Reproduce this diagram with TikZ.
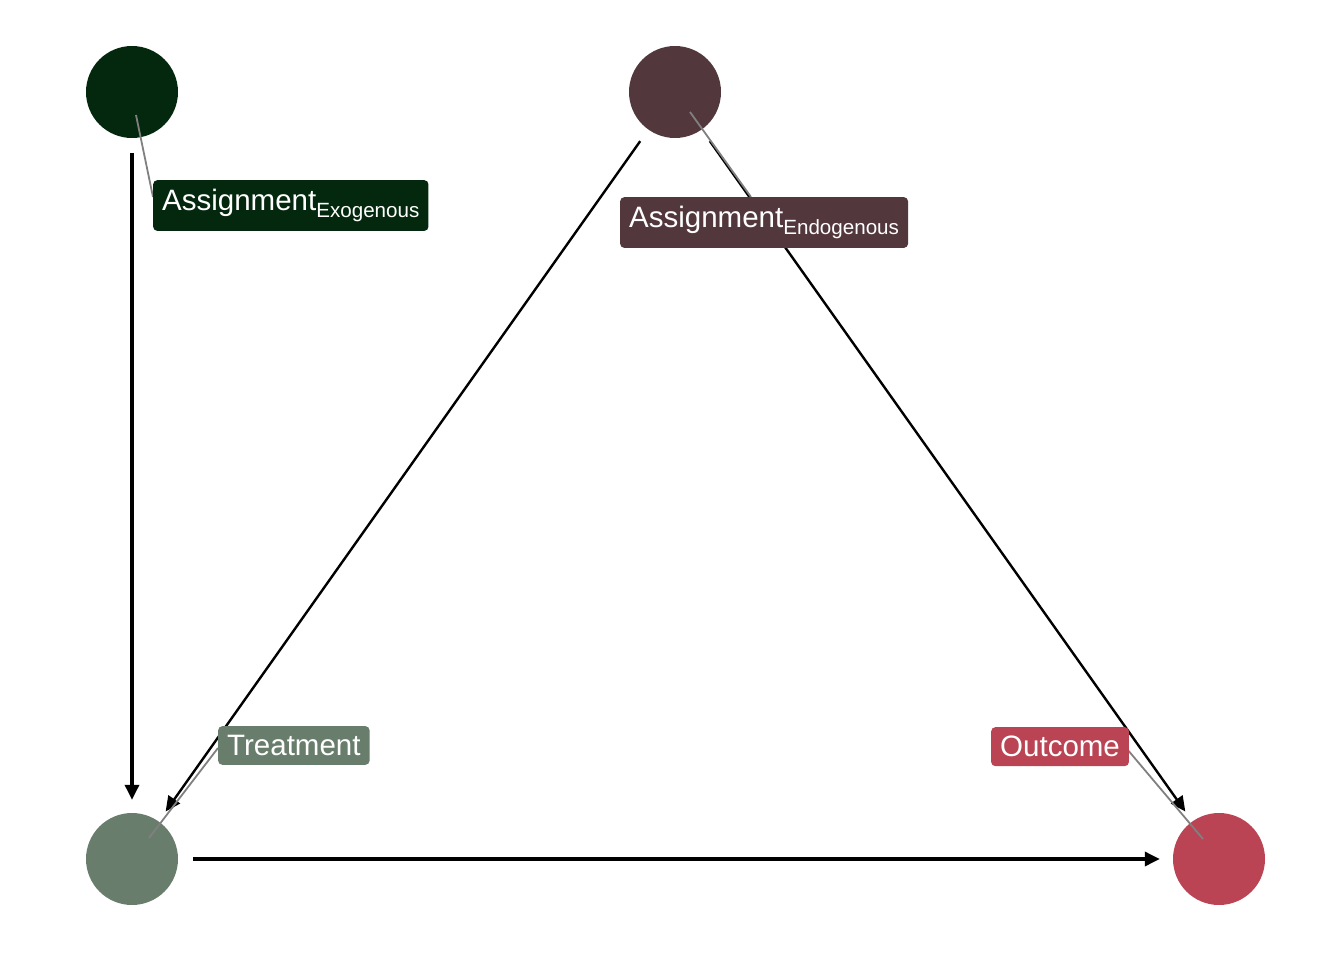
\documentclass[tikz,border=0pt]{standalone}
\usepackage{fontspec}
\setmainfont{Liberation Sans}
\usetikzlibrary{arrows.meta}
\definecolor{cexo}{HTML}{03280D}
\definecolor{cendo}{HTML}{52373C}
\definecolor{ctrt}{HTML}{697D6C}
\definecolor{cout}{HTML}{BA4453}
\tikzset{
  dot/.style={circle, minimum size=92pt, inner sep=0pt, draw=none},
  edge/.style={line width=3.3pt, -{Triangle[length=15pt,width=14pt]}, shorten <=15pt, shorten >=13pt},
  dedge/.style={line width=2.4pt, -{Triangle[length=15pt,width=14pt]}, shorten <=14pt, shorten >=12pt},
  lab/.style={anchor=north west, rounded corners=4pt, inner xsep=9pt, inner ysep=9pt, text=white,
    font=\fontsize{29.5}{34}\selectfont},
  seg/.style={draw=gray, line width=1.8pt},
}
\newcommand{\subtxt}[1]{\raisebox{-7pt}{\fontsize{20.6}{24}\selectfont #1}}
\begin{document}
\begin{tikzpicture}[x=1pt,y=-1pt]
\useasboundingbox (0,0) rectangle (1344,960);
% nodes
\node[dot, fill=cexo] (exo) at (132,92) {};
\node[dot, fill=cendo] (endo) at (675,92) {};
\node[dot, fill=ctrt] (trt) at (132,859) {};
\node[dot, fill=cout] (out) at (1219,859) {};
% connectors
\draw[edge] (exo) -- (trt);
\draw[edge] (trt) -- (out);
\draw[dedge] (endo) -- (trt);
\draw[dedge] (endo) -- (out);
% label anchors
\coordinate (sexo) at (136,115);
\coordinate (eexo) at (153,197);
\coordinate (sendo) at (690,112);
\coordinate (eendo) at (751,197);
\coordinate (strt) at (149,838);
\coordinate (etrt) at (218,748);
\coordinate (sout) at (1203,839);
\coordinate (eout) at (1127,749);
\draw[seg] (sexo) -- (eexo);
\draw[seg] (sendo) -- (eendo);
\draw[seg] (strt) -- (etrt);
\draw[seg] (sout) -- (eout);
% labels
\node[lab, fill=cexo] (lexo) at (153,180) {Assignment\subtxt{Exogenous}};
\node[lab, fill=cendo] (lendo) at (620,197) {Assignment\subtxt{Endogenous}};
\node[lab, fill=ctrt] (ltrt) at (218,726) {Treatment};
\node[lab, fill=cout] (lout) at (991,727) {Outcome};
\end{tikzpicture}
\end{document}
